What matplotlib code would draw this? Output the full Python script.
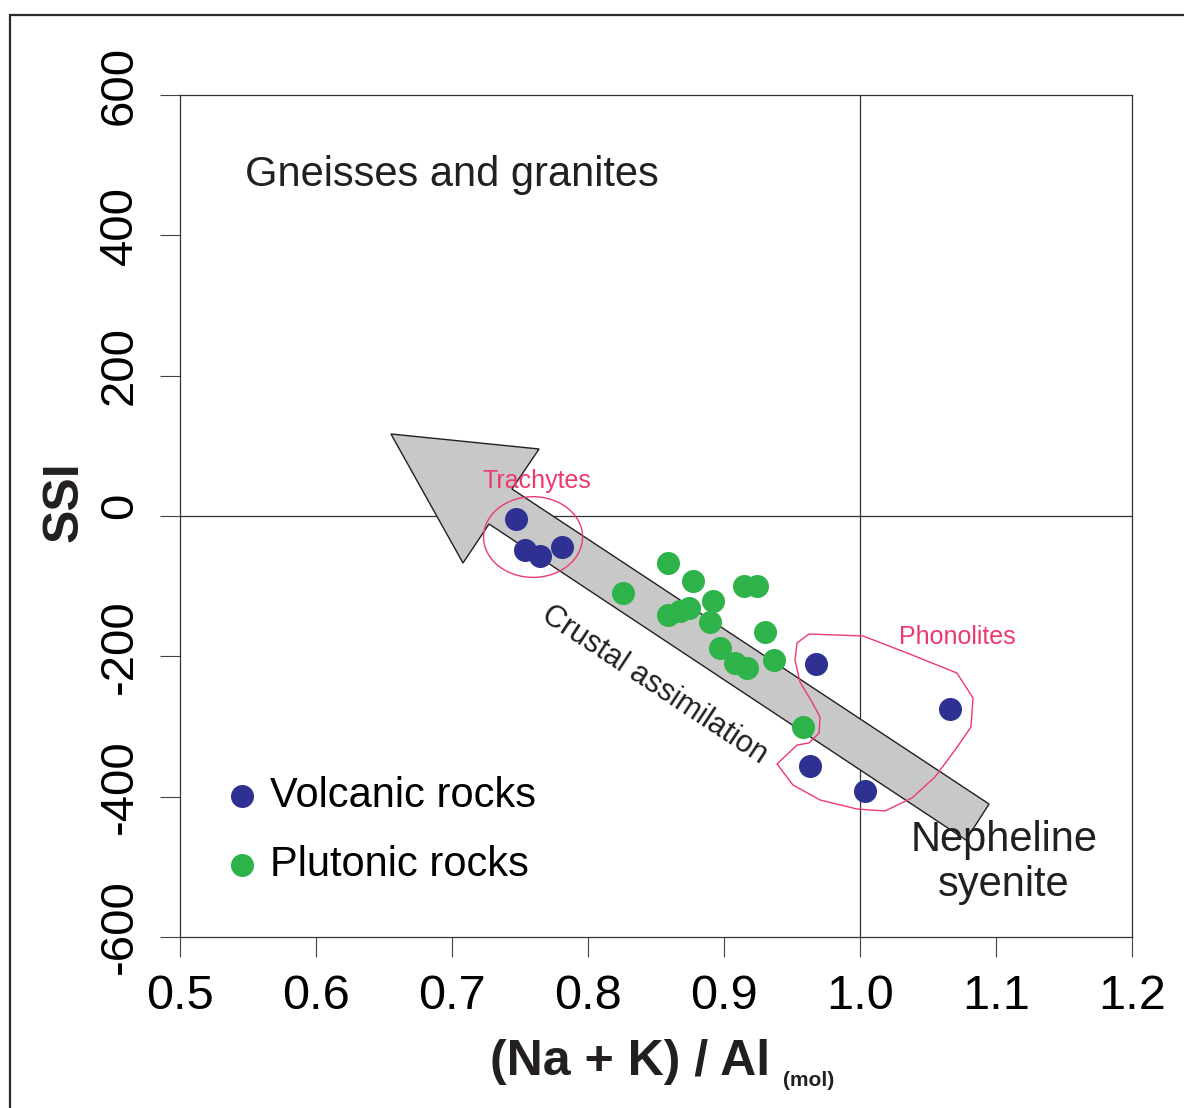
import matplotlib
matplotlib.use("Agg")
import matplotlib.pyplot as plt
import matplotlib.transforms as mtransforms
from matplotlib.patches import Polygon, Ellipse, Rectangle

plt.rcParams['font.family'] = ['Liberation Sans', 'DejaVu Sans']
plt.rcParams['axes.unicode_minus'] = False

# ---------------- data ----------------
volcanic_x = [0.747, 0.754, 0.765, 0.781, 0.968, 1.066, 0.963, 1.004]
volcanic_y = [-4, -48, -57, -44, -211, -275, -356, -392]

plutonic_x = [0.859, 0.877, 0.826, 0.915, 0.924, 0.892, 0.859, 0.868, 0.874,
              0.890, 0.930, 0.897, 0.908, 0.917, 0.937, 0.958]
plutonic_y = [-67, -93, -110, -100, -100, -121, -141, -135, -131,
              -151, -165, -188, -209, -217, -205, -301]

x_ticks = [0.5, 0.6, 0.7, 0.8, 0.9, 1.0, 1.1, 1.2]
x_tick_labels = ["0.5", "0.6", "0.7", "0.8", "0.9", "1.0", "1.1", "1.2"]
y_ticks = [-600, -400, -200, 0, 200, 400, 600]
y_tick_labels = ["-600", "-400", "-200", "0", "200", "400", "600"]

# annotation shapes (data coordinates)
arrow_x = [0.6551, 0.7640, 0.7441, 1.0949, 1.0779, 0.7272, 0.7081]
arrow_y = [116.9, 95.5, 38.5, -410.5, -461.8, -11.4, -67.0]

phonolite_x = [0.9625, 1.0022, 1.0346, 1.0713, 1.0831, 1.0816, 1.0699, 1.0551,
               1.0382, 1.0184, 0.9978, 0.9706, 0.9507, 0.9390, 0.9537, 0.9625,
               0.9699, 0.9706, 0.9647, 0.9559, 0.9522, 0.9537]
phonolite_y = [-168.2, -171.0, -195.2, -223.8, -259.4, -300.7, -333.5, -372.0,
               -401.9, -420.4, -417.6, -404.7, -383.4, -353.4, -326.4, -323.5,
               -309.3, -286.5, -265.1, -236.6, -205.2, -181.0]

trachyte_center = (0.7596, -30)
trachyte_size = (0.0728, 115)

BLUE = '#2e3192'
GREEN = '#2db34a'
PINK = '#ec3a6e'
DARK = '#231f20'

# ---------------- figure ----------------
W, H = 1184, 1108
fig = plt.figure(figsize=(W / 100, H / 100), dpi=100)
ax = fig.add_axes([180 / W, 1 - 937 / H, 952 / W, 842 / H])

# outer frame
fig.patches.append(Rectangle((10 / W, -0.1), 1.2, (1 - 15 / H) + 0.1,
                             transform=fig.transFigure, fill=False,
                             lw=1.6, ec='#2a2a2a', zorder=0))

ax.set_xlim(0.5, 1.2)
ax.set_ylim(-600, 600)

for s in ax.spines.values():
    s.set_color('#333333')
    s.set_linewidth(0.9)

ax.axhline(0, color='#333333', lw=0.9, zorder=1)
ax.axvline(1.0, color='#333333', lw=0.9, zorder=1)

# arrow
ax.add_patch(Polygon(list(zip(arrow_x, arrow_y)), closed=True, fc='#c8c8c8',
                     ec=DARK, lw=1.0, zorder=2))

# outlines
ax.add_patch(Polygon(list(zip(phonolite_x, phonolite_y)), closed=True, fill=False,
                     ec=PINK, lw=1.0, zorder=3))
ax.add_patch(Ellipse(trachyte_center, trachyte_size[0], trachyte_size[1], fill=False,
                     ec=PINK, lw=1.0, zorder=3))

ax.scatter(volcanic_x, volcanic_y, s=275, color=BLUE, lw=0, zorder=5, label='Volcanic rocks')
ax.scatter(plutonic_x, plutonic_y, s=275, color=GREEN, lw=0, zorder=5, label='Plutonic rocks')

# ticks
ax.set_xticks(x_ticks)
ax.set_xticklabels(x_tick_labels, fontsize=35)
ax.set_yticks(y_ticks)
ax.set_yticklabels(y_tick_labels, fontsize=34, rotation=90, va='center')
ax.tick_params(axis='both', direction='out', length=14.4, width=0.8, color='#444444')
ax.tick_params(axis='x', pad=12)
ax.tick_params(axis='y', pad=13)
shift_up = mtransforms.ScaledTranslation(0, 10 / 100, fig.dpi_scale_trans)
for lab in ax.get_yticklabels():
    lab.set_transform(lab.get_transform() + shift_up)

# texts
ax.text(0.5478, 486, 'Gneisses and granites', fontsize=30, ha='left', va='center', color=DARK)
ax.text(0.7625, 50, 'Trachytes', fontsize=18, ha='center', va='center', color=PINK, zorder=4)
ax.text(1.0713, -172.4, 'Phonolites', fontsize=18, ha='center', va='center', color=PINK)
ax.text(0.849, -241, 'Crustal assimilation', fontsize=22, ha='center', va='center',
        rotation=-33.4, rotation_mode='anchor', color=DARK)
ax.text(1.106, -494, 'Nepheline\nsyenite', fontsize=30, ha='center', va='center',
        color=DARK, linespacing=1.15, zorder=6)

# legend
leg = ax.legend(loc='upper left', bbox_to_anchor=(0.021, 0.216), frameon=False,
                fontsize=30, handletextpad=0.18, labelspacing=0.69, borderpad=0,
                handlelength=1.0, scatterpoints=1)

# axis labels
ax.text(-0.121, 0.517, 'SSI', transform=ax.transAxes, fontsize=36, fontweight='bold',
        rotation=90, ha='center', va='center', color=DARK)
ax.text(0.6197, -0.1635, '(Na + K) / Al', transform=ax.transAxes, fontsize=36,
        fontweight='bold', ha='right', va='baseline', color=DARK)
ax.text(0.6334, -0.1775, '(mol)', transform=ax.transAxes, fontsize=15,
        fontweight='bold', ha='left', va='baseline', color=DARK)

fig.savefig('out.png', dpi=100)
